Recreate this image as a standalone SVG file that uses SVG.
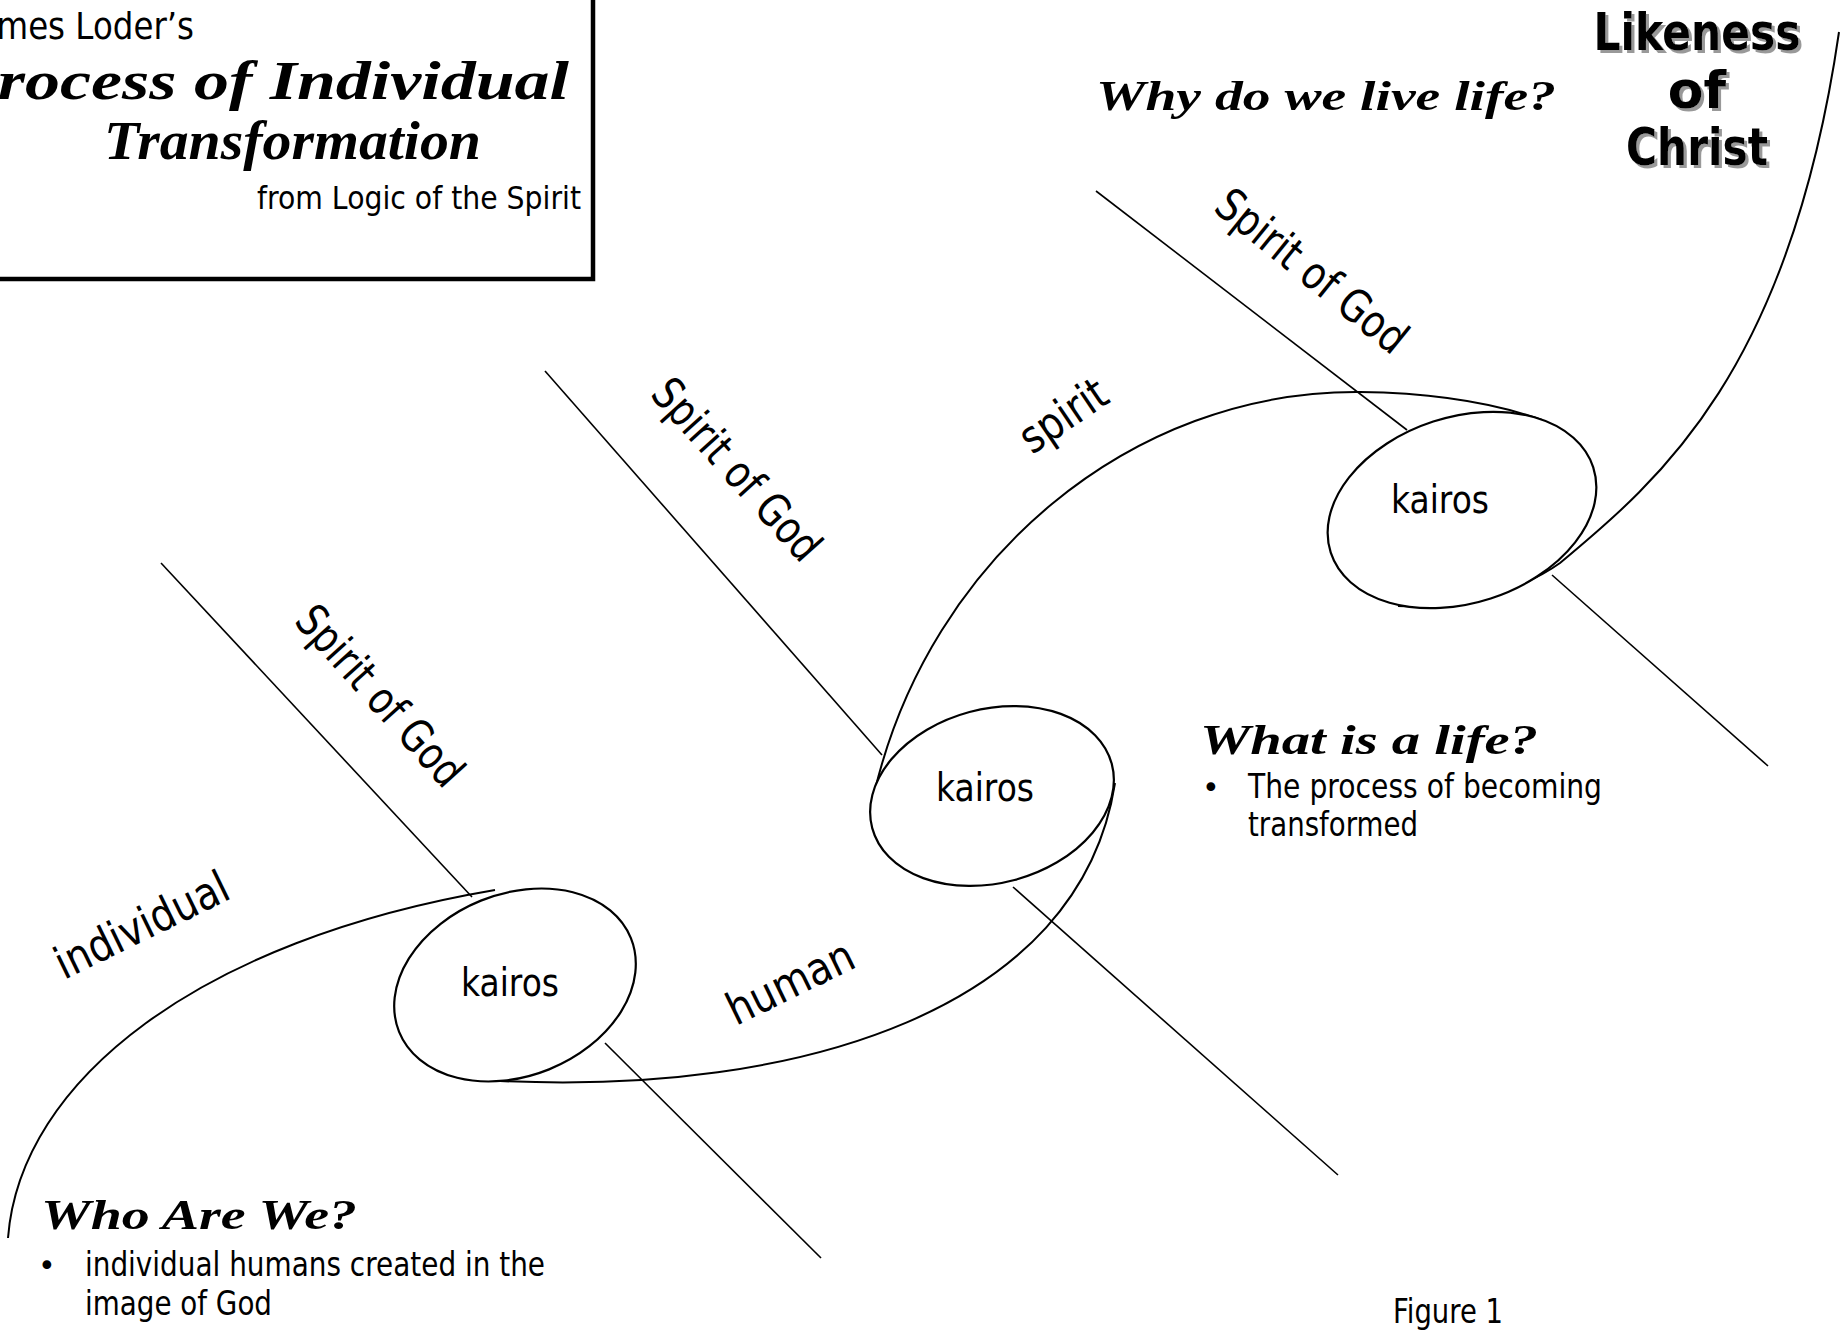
<svg xmlns="http://www.w3.org/2000/svg" width="1848" height="1332" viewBox="0 0 1848 1332">
<style>
.sans{font-family:'DejaVu Sans','Liberation Sans',sans-serif;fill:#000}
.script{font-family:'Liberation Serif','DejaVu Serif',serif;font-style:italic;font-weight:bold;fill:#000}
.bold{font-family:'DejaVu Sans','Liberation Sans',sans-serif;font-weight:bold}
.ln{stroke:#000;stroke-width:1.6;fill:none}
.cv{stroke:#000;stroke-width:2;fill:none}
.ell{stroke:#000;stroke-width:2.2;fill:#fff}
</style>
<defs>
  <filter id="shadow" x="-10%" y="-10%" width="130%" height="130%">
    <feOffset in="SourceAlpha" dx="3" dy="3" result="off"/>
    <feFlood flood-color="#999999"/>
    <feComposite in2="off" operator="in" result="sh"/>
    <feMerge><feMergeNode in="sh"/><feMergeNode in="SourceGraphic"/></feMerge>
  </filter>
</defs>
<rect x="0" y="0" width="1848" height="1332" fill="#fff"/>

<g id="title">
  <rect x="-10" y="-10" width="603" height="289" fill="#fff" stroke="#000" stroke-width="4.5"/>
  <text class="sans" x="-33" y="39" font-size="38" textLength="227" lengthAdjust="spacingAndGlyphs">James Loder’s</text>
  <text class="script" x="-45" y="99" font-size="54" textLength="614" lengthAdjust="spacingAndGlyphs">Process of Individual</text>
  <text class="script" x="104" y="159" font-size="54" textLength="377" lengthAdjust="spacingAndGlyphs">Transformation</text>
  <text class="sans" x="257" y="209" font-size="32" textLength="324" lengthAdjust="spacingAndGlyphs">from Logic of the Spirit</text>
</g>

<g id="connectors">
  <line class="ln" x1="161" y1="563" x2="472" y2="897"/>
  <line class="ln" x1="605" y1="1043" x2="821" y2="1258"/>
  <line class="ln" x1="545" y1="371" x2="882" y2="755"/>
  <line class="ln" x1="1013" y1="887" x2="1338" y2="1175"/>
  <line class="ln" x1="1096" y1="191" x2="1407" y2="430"/>
  <line class="ln" x1="1552" y1="575" x2="1768" y2="766"/>
  <path class="cv" d="M 8,1238 C 20,1080 200,940 495,890"/>
  <path class="cv" d="M 500,1081 C 800,1095 1080,1010 1115,783"/>
  <path class="cv" d="M 875,790 C 930,560 1130,390 1360,392 C 1440,393 1500,405 1542,420"/>
  <path class="cv" d="M 1398,606 C 1460,610 1525,588 1560,563 C 1660,480 1790,370 1839,32"/>
</g>

<g id="kairos1">
  <ellipse class="ell" cx="515" cy="985" rx="125" ry="91" transform="rotate(-22 515 985)"/>
  <text class="sans" x="510" y="996" font-size="39" text-anchor="middle" textLength="98" lengthAdjust="spacingAndGlyphs">kairos</text>
</g>
<g id="kairos2">
  <ellipse class="ell" cx="992" cy="796" rx="124" ry="87" transform="rotate(-15 992 796)"/>
  <text class="sans" x="985" y="801" font-size="39" text-anchor="middle" textLength="98" lengthAdjust="spacingAndGlyphs">kairos</text>
</g>
<g id="kairos3">
  <ellipse class="ell" cx="1462" cy="510" rx="138" ry="93" transform="rotate(-18 1462 510)"/>
  <text class="sans" x="1440" y="513" font-size="39" text-anchor="middle" textLength="98" lengthAdjust="spacingAndGlyphs">kairos</text>
</g>

<g id="labels">
  <text class="sans" font-size="45" transform="translate(293 622) rotate(48)" textLength="226" lengthAdjust="spacingAndGlyphs">Spirit of God</text>
  <text class="sans" font-size="45" transform="translate(649 395) rotate(48)" textLength="228" lengthAdjust="spacingAndGlyphs">Spirit of God</text>
  <text class="sans" font-size="45" transform="translate(1212 210) rotate(39)" textLength="232" lengthAdjust="spacingAndGlyphs">Spirit of God</text>
  <text class="sans" font-size="45" transform="translate(64 980) rotate(-26)" textLength="188" lengthAdjust="spacingAndGlyphs">individual</text>
  <text class="sans" font-size="45" transform="translate(736 1026) rotate(-26)" textLength="136" lengthAdjust="spacingAndGlyphs">human</text>
  <text class="sans" font-size="45" transform="translate(1032 455) rotate(-34)" textLength="96" lengthAdjust="spacingAndGlyphs">spirit</text>
</g>

<g id="likeness" filter="url(#shadow)">
  <g fill="#000" class="bold" font-size="52" text-anchor="middle">
    <text x="1697" y="50" textLength="207" lengthAdjust="spacingAndGlyphs">Likeness</text>
    <text x="1697" y="108">of</text>
    <text x="1697" y="165" textLength="142" lengthAdjust="spacingAndGlyphs">Christ</text>
  </g>
</g>

<g id="why">
  <text class="script" x="1096" y="110" font-size="42" textLength="460" lengthAdjust="spacingAndGlyphs">Why do we live life?</text>
</g>

<g id="what">
  <text class="script" x="1200" y="754" font-size="42" textLength="338" lengthAdjust="spacingAndGlyphs">What is a life?</text>
  <text class="sans" x="1202" y="798" font-size="30">•</text>
  <text class="sans" x="1248" y="798" font-size="34" textLength="354" lengthAdjust="spacingAndGlyphs">The process of becoming</text>
  <text class="sans" x="1248" y="836" font-size="34" textLength="170" lengthAdjust="spacingAndGlyphs">transformed</text>
</g>

<g id="who">
  <text class="script" x="41" y="1229" font-size="42" textLength="316" lengthAdjust="spacingAndGlyphs">Who Are We?</text>
  <text class="sans" x="38" y="1276" font-size="30">•</text>
  <text class="sans" x="85" y="1276" font-size="34" textLength="460" lengthAdjust="spacingAndGlyphs">individual humans created in the</text>
  <text class="sans" x="85" y="1315" font-size="34" textLength="187" lengthAdjust="spacingAndGlyphs">image of God</text>
</g>

<g id="figure">
  <text class="sans" x="1393" y="1323" font-size="33" textLength="110" lengthAdjust="spacingAndGlyphs">Figure 1</text>
</g>
</svg>
